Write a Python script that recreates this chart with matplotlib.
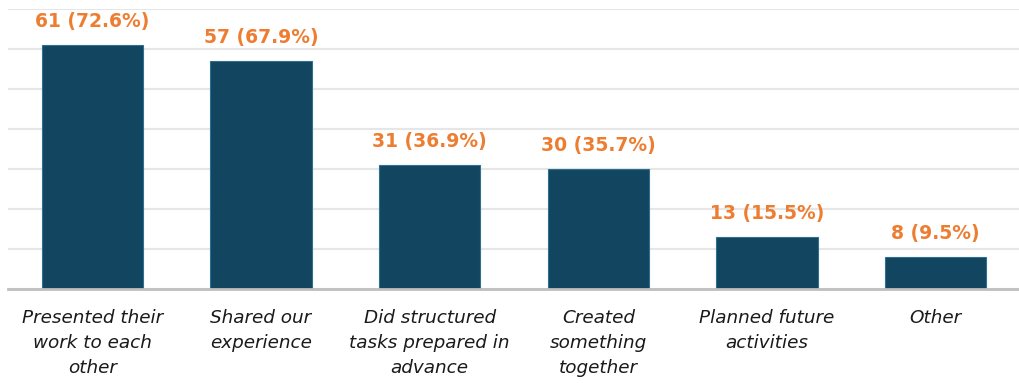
import matplotlib
matplotlib.use("Agg")
import matplotlib.pyplot as plt

categories = ["Presented their\nwork to each\nother", "Shared our\nexperience",
              "Did structured\ntasks prepared in\nadvance", "Created\nsomething\ntogether",
              "Planned future\nactivities", "Other"]
counts = [61, 57, 31, 30, 13, 8]
percents = [72.6, 67.9, 36.9, 35.7, 15.5, 9.5]

fig = plt.figure(figsize=(10.2, 3.83), dpi=100)
ax = fig.add_axes([8/1020, 94/383, 1012/1020, 280/383])
x = list(range(len(categories)))
ax.bar(x, counts, width=0.6, color="#124660", edgecolor="#2f6f90", linewidth=0.8, zorder=3)
ax.set_xlim(-0.5, len(categories) - 0.5)
ax.set_ylim(0, 70)
ax.set_yticks(range(0, 71, 10))
ax.yaxis.grid(True, color="#e6e6e6", linewidth=1.5, zorder=0)
ax.tick_params(axis="y", left=False, labelleft=False)
ax.tick_params(axis="x", bottom=False, pad=11)
for s in ["top", "right", "left"]:
    ax.spines[s].set_visible(False)
ax.spines["bottom"].set_color("#bfbfbf")
ax.spines["bottom"].set_linewidth(2)
ax.spines["bottom"].set_zorder(4)
ax.set_xticks(x)
ax.set_xticklabels(categories, fontstyle="italic", fontsize=13.2, color="#1a1a1a",
                   family="DejaVu Sans", linespacing=1.5, va="top")
for xi, c, p in zip(x, counts, percents):
    ax.annotate(f"{c} ({p}%)", (xi, c), xytext=(0, 10), textcoords="offset points",
                ha="center", va="bottom", color="#ED7D31", fontsize=13.5,
                fontweight="bold", family="DejaVu Sans")
fig.savefig("out.png", dpi=100)
